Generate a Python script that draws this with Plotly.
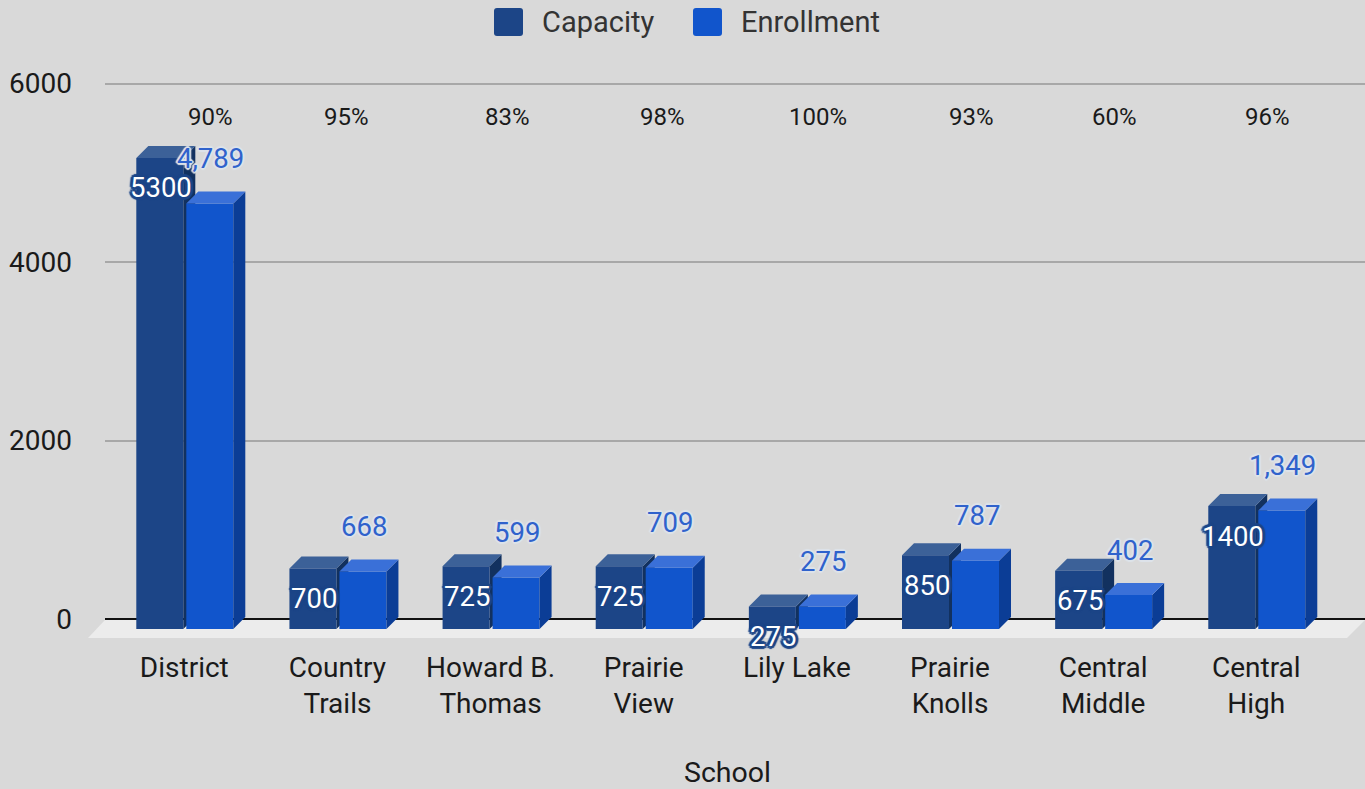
"""School capacity vs. enrollment, drawn as faux-3D columns."""

import plotly.graph_objects as go

# ── data ──
SCHOOLS = ['District', 'Country<br>Trails', 'Howard B.<br>Thomas', 'Prairie<br>View',
           'Lily Lake', 'Prairie<br>Knolls', 'Central<br>Middle', 'Central<br>High']
CAPACITY = [5300, 700, 725, 725, 275, 850, 675, 1400]
ENROLLMENT = [4789, 668, 599, 709, 275, 787, 402, 1349]
PERCENT = ['90%', '95%', '83%', '98%', '100%', '93%', '60%', '96%']
Y_TICKS = [0, 2000, 4000, 6000]

# ── layout constants (pixels on the 1365x789 canvas) ──
WIDTH, HEIGHT = 1365, 789
LEFT, TOP, BOTTOM = 105, 78, 640
ZERO_PX = 619
CAT_STEP = 153.14            # px between categories
FIRST_CAT = 184.3            # px of first category centre
Y_SCALE = (ZERO_PX - 83.5) / 6000  # px per unit
FONT = 'Roboto'

X_RANGE = [(LEFT - FIRST_CAT) / CAT_STEP, (WIDTH - FIRST_CAT) / CAT_STEP]
Y_RANGE = [-(BOTTOM - ZERO_PX) / Y_SCALE, (ZERO_PX - TOP) / Y_SCALE]

BAR_W = 47 / CAT_STEP
CAP_OFF = -48 / CAT_STEP
ENR_OFF = 2 / CAT_STEP
DEPTH_X = 12 / CAT_STEP
DEPTH_Y = 12 / Y_SCALE
BASE = -10 / Y_SCALE

# the percent row is not centred on the categories in the original
PERCENT_SHIFT = [26, 9, 17, 19, 21, 21, 11, 11]

CAP_COLORS = dict(front='#1c4587', top='#3c6198', side='#12315f')
ENR_COLORS = dict(front='#1155cc', top='#3a70d8', side='#0b3d96')
CAP_HALO = '#1c4587'
ENR_HALO = '#dde3ea'


def halo(color, r=3):
    """CSS text-shadow ring round a label"""
    dirs = [(r, 0), (-r, 0), (0, r), (0, -r), (r - 1, r - 1), (1 - r, r - 1), (r - 1, 1 - r), (1 - r, 1 - r)]
    return ', '.join(f'{dx}px {dy}px 1px {color}' for dx, dy in dirs)


def px_x(x):
    return (x - LEFT) / (WIDTH - LEFT)


def px_y(y):
    return (BOTTOM - y) / (BOTTOM - TOP)


def poly(points):
    return 'M' + 'L'.join(f'{x},{y}' for x, y in points) + 'Z'


def faces(values, offset, colors, side_layer):
    """Top and side faces of one series, in data coordinates"""
    shapes = []
    for i, v in enumerate(values):
        x0 = i + offset
        x1 = x0 + BAR_W
        top = [(x0, v - DEPTH_Y), (x0 + DEPTH_X, v), (x1 + DEPTH_X, v), (x1, v - DEPTH_Y)]
        side = [(x1, BASE), (x1 + DEPTH_X, BASE + DEPTH_Y), (x1 + DEPTH_X, v), (x1, v - DEPTH_Y)]
        for pts, col in ((side, colors['side']), (top, colors['top'])):
            shapes.append(dict(type='path', path=poly(pts), xref='x', yref='y',
                               fillcolor=col, line_width=0, layer=side_layer))
    return shapes


def swatch(x0, color):
    x1, y0, y1 = x0 + 29, 8, 36
    r = 3
    pts = (f'M{px_x(x0 + r)},{px_y(y0)}L{px_x(x1 - r)},{px_y(y0)}'
           f'Q{px_x(x1)},{px_y(y0)} {px_x(x1)},{px_y(y0 + r)}'
           f'L{px_x(x1)},{px_y(y1 - r)}Q{px_x(x1)},{px_y(y1)} {px_x(x1 - r)},{px_y(y1)}'
           f'L{px_x(x0 + r)},{px_y(y1)}Q{px_x(x0)},{px_y(y1)} {px_x(x0)},{px_y(y1 - r)}'
           f'L{px_x(x0)},{px_y(y0 + r)}Q{px_x(x0)},{px_y(y0)} {px_x(x0 + r)},{px_y(y0)}Z')
    return dict(type='path', path=pts, xref='paper', yref='paper',
                fillcolor=color, line_width=0)


positions = list(range(len(SCHOOLS)))
fig = go.Figure()

for name, values, offset, colors in (('Capacity', CAPACITY, CAP_OFF, CAP_COLORS),
                                     ('Enrollment', ENROLLMENT, ENR_OFF, ENR_COLORS)):
    fig.add_trace(go.Bar(
        x=positions,
        y=[v - DEPTH_Y - BASE for v in values],
        base=BASE,
        width=BAR_W,
        offset=offset,
        name=name,
        marker=dict(color=colors['front'], line_width=0),
    ))

# floor under the columns
floor = poly([(px_x(105), px_y(620)), (px_x(1365), px_y(620)),
              (px_x(1347), px_y(638)), (px_x(88), px_y(638))])
shapes = [dict(type='path', path=floor, xref='paper', yref='paper',
               fillcolor='#ececec', line_width=0, layer='below')]
shapes += faces(CAPACITY, CAP_OFF, CAP_COLORS, 'between')
shapes += faces(ENROLLMENT, ENR_OFF, ENR_COLORS, 'above')
shapes += [swatch(494, CAP_COLORS['front']), swatch(693, ENR_COLORS['front'])]

annotations = []
for i in positions:
    annotations.append(dict(
        x=i + CAP_OFF + BAR_W / 2, xshift=1, y=CAPACITY[i], yshift=-42, text=str(CAPACITY[i]),
        showarrow=False, font=dict(family=FONT, size=27.5, color='#ffffff', shadow=halo(CAP_HALO)),
    ))
    annotations.append(dict(
        x=i + ENR_OFF + BAR_W / 2, xshift=1, y=ENROLLMENT[i], yshift=33, text=f'{ENROLLMENT[i]:,}',
        showarrow=False, font=dict(family=FONT, size=27.5, color='#2f62cc', shadow=halo(ENR_HALO, 2)),
    ))
    annotations.append(dict(
        x=i, y=(ZERO_PX - 117) / Y_SCALE, xshift=PERCENT_SHIFT[i], text=PERCENT[i],
        showarrow=False, font=dict(family=FONT, size=24, color='#1a1a1a'),
    ))

# legend and axis title sit by hand, same as the original's off-centre placement
for text, x in (('Capacity', 540), ('Enrollment', 739)):
    annotations.append(dict(
        x=px_x(x), y=px_y(22), xref='paper', yref='paper', xanchor='left', yanchor='middle',
        text=text, showarrow=False, font=dict(family=FONT, size=29, color='#333333'),
    ))
annotations.append(dict(
    x=px_x(727), y=px_y(772), xref='paper', yref='paper', yanchor='middle', text='School',
    showarrow=False, font=dict(family=FONT, size=28.5, color='#1a1a1a'),
))

fig.update_layout(
    width=WIDTH,
    height=HEIGHT,
    margin=dict(l=LEFT, r=0, t=TOP, b=HEIGHT - BOTTOM, pad=0),
    paper_bgcolor='#d9d9d9',
    plot_bgcolor='#d9d9d9',
    showlegend=False,
    barmode='overlay',
    shapes=shapes,
    annotations=annotations,
    xaxis=dict(
        range=X_RANGE,
        tickmode='array',
        tickvals=positions,
        ticktext=SCHOOLS,
        showgrid=False,
        zeroline=False,
        ticks='',
        ticklabelstandoff=8,
        tickfont=dict(family=FONT, size=28, color='#1a1a1a'),
        tickangle=0,
    ),
    yaxis=dict(
        range=Y_RANGE,
        tickmode='array',
        tickvals=Y_TICKS,
        gridcolor='#a8a8a8',
        gridwidth=2,
        zeroline=True,
        zerolinecolor='#111111',
        zerolinewidth=2,
        ticks='',
        ticklabelstandoff=32,
        tickfont=dict(family=FONT, size=28, color='#1a1a1a'),
    ),
)

fig.write_html("out.html", config=dict(displayModeBar=False),
               post_script="document.body.style.margin='0';document.body.style.overflow='hidden';")
